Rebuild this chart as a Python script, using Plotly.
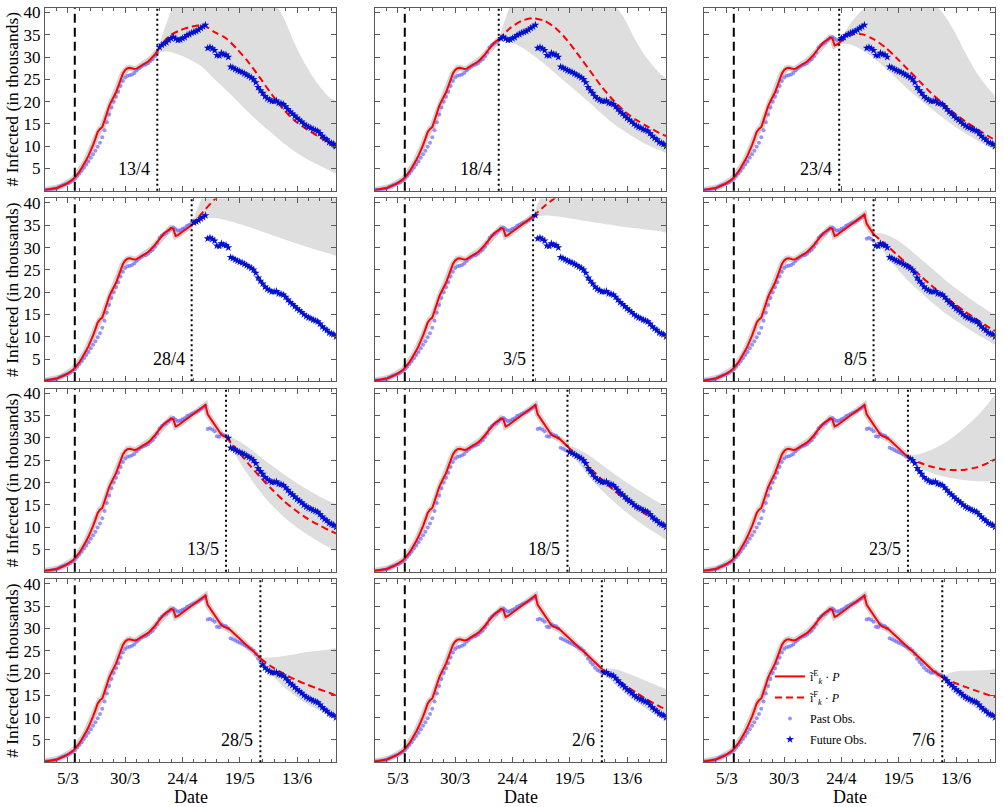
import plotly.graph_objects as go
import pandas as pd

START = pd.Timestamp("2020-02-24")

# observed infected (thousands), one value per day from 24/2 to 30/6
observed = [
    0.17, 0.23, 0.25, 0.35, 0.46, 0.55, 0.85, 1.10, 1.30, 1.50,
    1.70, 1.95, 2.30, 2.70, 3.30, 3.90, 4.50, 5.20, 5.90, 6.60,
    7.40, 8.20, 9.00, 9.90, 10.8, 12.0, 13.6, 15.4, 17.1, 18.7,
    20.0, 21.1, 22.2, 23.5, 24.6, 25.4, 25.8, 25.9, 26.1, 26.4,
    27.0, 27.5, 27.9, 28.2, 28.3, 28.6, 29.1, 29.5, 30.2, 31.0,
    32.2, 32.7, 33.0, 33.3, 33.8, 34.2, 34.5, 34.1, 33.8, 33.9,
    34.2, 34.4, 34.9, 35.1, 35.4, 35.6, 35.8, 36.1, 36.5, 36.8,
    37.2, 32.0, 32.2, 31.9, 31.5, 30.4, 30.3, 30.9, 30.6, 30.5,
    30.0, 27.8, 27.6, 27.3, 27.0, 26.8, 26.6, 26.3, 26.0, 25.7,
    25.4, 25.0, 24.3, 23.2, 22.5, 21.9, 21.2, 20.7, 20.4, 20.1,
    20.1, 20.2, 19.7, 19.6, 19.4, 18.9, 18.3, 17.7, 17.3, 16.8,
    16.3, 15.9, 15.5, 15.0, 14.6, 14.3, 14.1, 13.8, 13.6, 13.4,
    12.9, 12.3, 11.8, 11.5, 10.9, 10.7, 10.5, 10.0,
]

# estimated infected i^E_k * P (thousands), one value per day from 24/2 to 7/6
estimate = [
    0.20, 0.25, 0.30, 0.40, 0.50, 0.62, 0.80, 1.00, 1.25, 1.50,
    1.80, 2.10, 2.50, 3.00, 3.60, 4.30, 5.10, 5.90, 6.90, 7.90,
    9.00, 10.3, 11.7, 13.2, 13.9, 14.3, 15.8, 17.6, 19.0, 20.1,
    21.0, 22.1, 23.5, 25.0, 26.3, 27.1, 27.5, 27.6, 27.4, 27.3,
    27.4, 27.7, 28.1, 28.4, 28.7, 29.0, 29.5, 30.0, 30.6, 31.3,
    32.0, 32.6, 33.2, 33.6, 33.9, 34.4, 34.2, 32.6, 32.8, 33.2,
    33.6, 34.0, 34.3, 34.7, 35.0, 35.4, 35.8, 36.2, 36.6, 37.0,
    37.4, 35.3, 34.5, 33.8, 33.0, 32.0, 31.2, 30.7, 30.4, 30.2,
    30.0, 29.6, 29.1, 28.6, 28.1, 27.6, 27.1, 26.6, 26.1, 25.7,
    25.3, 24.9, 24.4, 23.9, 23.3, 22.8, 22.3, 21.8, 21.3, 20.9,
    20.5, 20.2, 19.8, 19.4, 19.0,
]

forecast_labels = ["13/4", "18/4", "23/4", "28/4", "3/5", "8/5",
                   "13/5", "18/5", "23/5", "28/5", "2/6", "7/6"]
forecast_start = [49, 54, 59, 64, 69, 74, 79, 84, 89, 94, 99, 104]
grid_days = [49, 54, 59, 64, 69, 74, 79, 84, 89, 94, 99, 104, 109, 114, 119, 124, 127]

# forecast i^F_k * P (thousands) on grid_days from each forecast date on
fc_mean = [
    [31.3, 34.6, 36.0, 36.8, 37.1, 35.6, 34.2, 31.7, 28.7, 25.2, 21.6, 18.3, 15.7, 13.9, 12.3, 10.6, 9.3],
    [33.9, 36.5, 38.1, 38.7, 38.1, 36.4, 33.7, 30.3, 26.8, 23.3, 20.3, 17.8, 15.9, 14.4, 13.0, 12.3],
    [33.2, 34.9, 35.1, 34.0, 32.2, 29.8, 27.2, 24.6, 22.0, 19.7, 17.5, 15.6, 13.9, 12.3, 11.4],
    [35.0, 38.0, 40.8, 43.0, 44.6, 45.9, 47.0, 47.9, 48.6, 49.2, 49.7, 50.1, 50.4, 50.6],
    [37.0, 39.3, 41.3, 43.0, 44.5, 45.8, 46.9, 47.8, 48.6, 49.3, 49.9, 50.4, 50.6],
    [33.0, 30.8, 28.5, 26.2, 23.9, 21.6, 19.5, 17.5, 15.6, 13.9, 12.2, 11.3],
    [30.2, 27.2, 24.1, 21.2, 18.5, 16.0, 13.9, 12.1, 10.6, 9.3, 8.6],
    [28.1, 25.6, 23.1, 20.7, 18.4, 16.3, 14.4, 12.6, 10.9, 10.0],
    [25.7, 24.5, 23.6, 23.0, 22.8, 22.9, 23.4, 24.4, 25.2],
    [23.3, 21.4, 19.9, 18.6, 17.5, 16.5, 15.6, 15.0],
    [20.9, 19.2, 17.3, 15.6, 14.0, 12.6, 11.8],
    [19.0, 17.9, 16.9, 16.0, 15.1, 14.6],
]
fc_low = [
    [31.0, 31.2, 30.4, 29.2, 27.6, 25.0, 22.6, 20.1, 17.5, 15.1, 12.9, 10.7, 8.8, 7.2, 5.9, 4.6, 4.0],
    [33.7, 33.4, 32.2, 30.4, 28.4, 26.2, 24.0, 21.8, 19.6, 17.3, 15.1, 13.3, 11.7, 10.3, 9.2, 8.6],
    [33.0, 32.8, 31.6, 29.8, 27.6, 25.2, 22.8, 20.6, 18.5, 16.5, 14.6, 12.9, 11.4, 10.0, 9.3],
    [34.8, 36.4, 36.6, 36.1, 35.4, 34.6, 33.7, 32.8, 31.9, 31.0, 30.2, 29.4, 28.7, 28.3],
    [36.8, 37.2, 37.0, 36.6, 36.2, 35.8, 35.4, 35.0, 34.6, 34.3, 34.0, 33.7, 33.5],
    [32.8, 28.6, 25.4, 22.6, 20.2, 17.9, 15.8, 13.9, 12.2, 10.6, 9.1, 8.3],
    [29.9, 25.4, 21.4, 17.9, 14.9, 12.4, 10.3, 8.5, 6.9, 5.5, 4.8],
    [27.8, 24.2, 21.0, 18.2, 15.8, 13.6, 11.6, 9.8, 8.2, 7.3],
    [25.4, 23.4, 22.2, 21.4, 20.9, 20.5, 20.3, 20.3, 20.4],
    [23.1, 19.6, 17.0, 15.0, 13.2, 11.8, 10.6, 10.0],
    [20.7, 17.8, 15.5, 13.5, 11.8, 10.2, 9.3],
    [18.8, 15.6, 13.6, 12.0, 10.8, 10.2],
]
fc_high = [
    [31.6, 39.0, 45.0, 49.0, 51.0, 52.0, 52.0, 51.0, 49.0, 46.5, 43.0, 39.0, 33.0, 28.0, 24.0, 21.0, 20.0],
    [34.1, 41.5, 46.5, 49.5, 50.5, 50.5, 49.5, 48.0, 46.0, 44.0, 42.0, 38.5, 33.5, 29.5, 26.5, 25.0],
    [33.4, 37.6, 40.5, 42.5, 44.0, 44.5, 44.5, 43.8, 42.5, 40.0, 36.0, 31.0, 26.5, 23.0, 21.0],
    [35.2, 42.0, 48.0, 53.0, 57.0, 60.0, 62.5, 64.5, 66.0, 67.0, 68.0, 68.5, 69.0, 69.0],
    [37.2, 43.5, 49.0, 53.5, 57.0, 60.0, 62.5, 64.5, 66.0, 67.0, 68.0, 68.5, 69.0],
    [33.3, 33.0, 31.8, 29.9, 27.7, 25.5, 23.3, 21.2, 19.3, 17.5, 15.8, 14.8],
    [30.5, 29.5, 27.8, 25.8, 23.8, 21.9, 20.2, 18.6, 17.1, 15.8, 15.0],
    [28.4, 27.4, 25.9, 24.0, 22.1, 20.3, 18.6, 17.0, 15.5, 14.6],
    [26.0, 26.4, 27.3, 28.6, 30.3, 32.4, 34.8, 37.7, 39.5],
    [23.5, 23.5, 23.8, 24.2, 24.7, 25.0, 25.3, 25.5],
    [21.1, 21.0, 20.2, 19.2, 18.1, 17.0, 16.3],
    [19.2, 20.3, 20.5, 20.6, 20.7, 20.8],
]

lockdown_day = 13
tick_days = [10, 35, 60, 85, 110]
tick_labels = ["5/3", "30/3", "24/4", "19/5", "13/6"]
y_ticks = [5, 10, 15, 20, 25, 30, 35, 40]


def day(d):
    return (START + pd.Timedelta(days=d)).strftime("%Y-%m-%d")


obs_dates = [day(i) for i in range(len(observed))]

W, H = 1004, 807
COL_LEFT = [45, 375, 704]
PANEL_W = 291
ROW_TOP = [3, 194.7, 386.3, 578]
PANEL_H = 184
FONT = "Liberation Serif"
AXC = "#5a5a5a"

RED = "#ff0000"
PAST = "rgba(105,105,255,0.7)"
FUT = "#0010d0"
BAND = "rgb(222,222,222)"

fig = go.Figure()
layout = dict(
    width=W, height=H, margin=dict(l=0, r=0, t=0, b=0),
    paper_bgcolor="white", plot_bgcolor="white",
    font=dict(family=FONT, size=16, color="black"),
    showlegend=True,
    legend=dict(x=770 / W, y=1 - 661 / H, xanchor="left", yanchor="top",
                font=dict(family=FONT, size=12), bgcolor="rgba(0,0,0,0)",
                tracegroupgap=2, itemwidth=30),
)
annotations = []
shapes = []

for i, (lab, d0) in enumerate(zip(forecast_labels, forecast_start)):
    r, c = divmod(i, 3)
    n = "" if i == 0 else str(i + 1)
    xa, ya = "x" + n, "y" + n
    x0 = COL_LEFT[c]
    top = ROW_TOP[r]
    layout["xaxis" + n] = dict(
        domain=[x0 / W, (x0 + PANEL_W) / W], anchor=ya, type="date",
        range=[day(0), day(127)],
        tickmode="array", tickvals=[day(d) for d in tick_days], ticktext=tick_labels,
        ticks="inside", ticklen=5, tickcolor=AXC, showline=True, linecolor=AXC,
        linewidth=1, mirror="ticks", showgrid=False, zeroline=False,
        showticklabels=(r == 3), tickfont=dict(family=FONT, size=17),
        minor=dict(ticks="inside", ticklen=3, tickcolor=AXC, dtick=5 * 86400000,
                   tick0=day(0), showgrid=False),
    )
    layout["yaxis" + n] = dict(
        domain=[1 - (top + PANEL_H) / H, 1 - top / H], anchor=xa,
        range=[0, 41], tickmode="array", tickvals=y_ticks,
        ticks="inside", ticklen=5, tickcolor=AXC, showline=True, linecolor=AXC,
        linewidth=1, mirror="ticks", showgrid=False, zeroline=False,
        showticklabels=(c == 0), tickfont=dict(family=FONT, size=17),
    )

    k = grid_days.index(d0)
    gd = [day(g) for g in grid_days[k:]]
    leg = (i == 11)

    fig.add_trace(go.Scatter(
        x=gd + gd[::-1], y=fc_high[i] + fc_low[i][::-1], xaxis=xa, yaxis=ya,
        mode="lines", fill="toself", fillcolor=BAND,
        line=dict(width=0, shape="spline", smoothing=0.8),
        hoverinfo="skip", showlegend=False))
    fig.add_trace(go.Scatter(
        x=obs_dates[:d0 + 1], y=estimate[:d0 + 1], xaxis=xa, yaxis=ya,
        mode="lines", line=dict(color="rgba(160,160,160,0.45)", width=6),
        hoverinfo="skip", showlegend=False))
    fig.add_trace(go.Scatter(
        x=obs_dates[:d0 + 1], y=observed[:d0 + 1], xaxis=xa, yaxis=ya,
        mode="markers", marker=dict(color=PAST, size=4, symbol="circle"),
        name="Past Obs.", legendgroup="past", legendrank=3, showlegend=leg))
    fig.add_trace(go.Scatter(
        x=obs_dates[:d0 + 1], y=estimate[:d0 + 1], xaxis=xa, yaxis=ya,
        mode="lines", line=dict(color=RED, width=2),
        name="ĩ<sup>E</sup><sub><i>k</i></sub> · <i>P</i>",
        legendgroup="est", legendrank=1, showlegend=leg))
    fig.add_trace(go.Scatter(
        x=gd, y=fc_mean[i], xaxis=xa, yaxis=ya,
        mode="lines", line=dict(color=RED, width=2, dash="7px,4px", shape="spline", smoothing=0.8),
        name="ĩ<sup>F</sup><sub><i>k</i></sub> · <i>P</i>",
        legendgroup="fc", legendrank=2, showlegend=leg))
    fig.add_trace(go.Scatter(
        x=obs_dates[d0 + 1:], y=observed[d0 + 1:], xaxis=xa, yaxis=ya,
        mode="markers", marker=dict(color=FUT, size=6, symbol="star", line=dict(width=0)),
        name="Future Obs.", legendgroup="fut", legendrank=4, showlegend=leg))

    shapes.append(dict(type="line", xref=xa, yref=ya + " domain",
                       x0=day(lockdown_day), x1=day(lockdown_day), y0=0, y1=1,
                       line=dict(color="black", width=2, dash="9px,5px")))
    shapes.append(dict(type="line", xref=xa, yref=ya + " domain",
                       x0=day(d0), x1=day(d0), y0=0, y1=1,
                       line=dict(color="black", width=2, dash="2px,3px")))
    annotations.append(dict(x=day(d0), y=5, xref=xa, yref=ya, text=lab,
                            showarrow=False, xanchor="right", yanchor="middle",
                            xshift=-5, font=dict(family=FONT, size=18)))

for r in range(4):
    annotations.append(dict(x=12 / W, y=1 - (ROW_TOP[r] + PANEL_H / 2) / H,
                            xref="paper", yref="paper", text="# Infected (in thousands)",
                            textangle=-90, showarrow=False, xanchor="center", yanchor="middle",
                            font=dict(family=FONT, size=17.5)))
for c in range(3):
    annotations.append(dict(x=(COL_LEFT[c] + PANEL_W / 2) / W, y=1 - 797 / H,
                            xref="paper", yref="paper", text="Date", showarrow=False,
                            xanchor="center", yanchor="middle",
                            font=dict(family=FONT, size=18)))

layout["annotations"] = annotations
layout["shapes"] = shapes
fig.update_layout(**layout)
fig.write_html("out.html", config={"displayModeBar": False},
               post_script="document.body.style.margin='0px';")
